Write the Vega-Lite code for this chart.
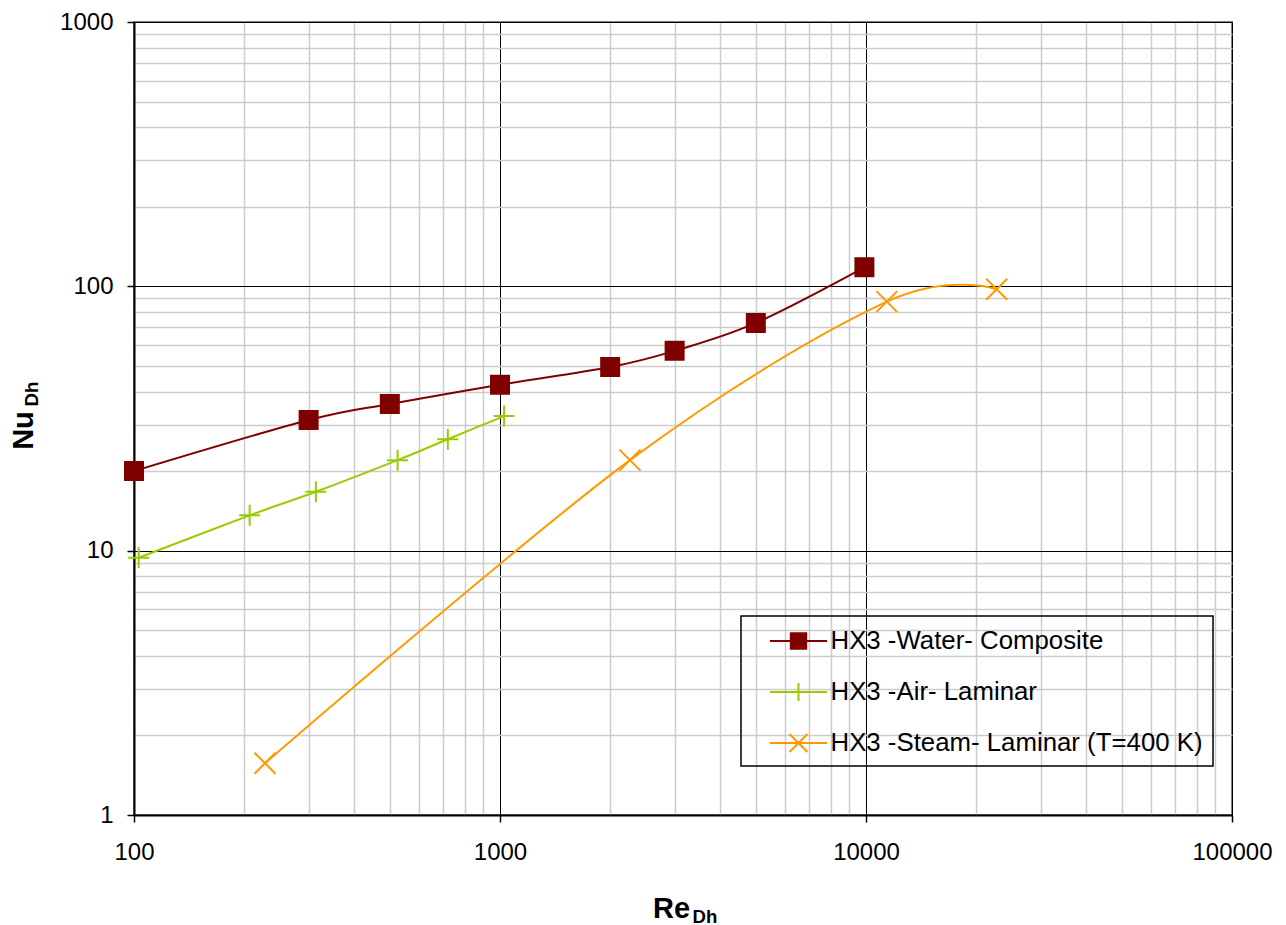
{
  "$schema": "https://vega.github.io/schema/vega-lite/v6.json",
  "width": 1098,
  "height": 793,
  "autosize": "none",
  "padding": {"left": 134, "top": 22, "right": 54, "bottom": 110},
  "background": "white",
  "config": {
    "font": "Liberation Sans",
    "view": {"stroke": "#808080", "strokeWidth": 2}
  },
  "data": {
    "values": [
      {"series": "HX3 -Water- Composite", "re": 100, "nu": 20.0},
      {"series": "HX3 -Water- Composite", "re": 300, "nu": 31.2},
      {"series": "HX3 -Water- Composite", "re": 500, "nu": 35.9},
      {"series": "HX3 -Water- Composite", "re": 1000, "nu": 42.4},
      {"series": "HX3 -Water- Composite", "re": 2000, "nu": 49.5},
      {"series": "HX3 -Water- Composite", "re": 3000, "nu": 57.0},
      {"series": "HX3 -Water- Composite", "re": 5000, "nu": 72.7},
      {"series": "HX3 -Water- Composite", "re": 9900, "nu": 118},
      {"series": "HX3 -Air- Laminar", "re": 103, "nu": 9.4},
      {"series": "HX3 -Air- Laminar", "re": 207, "nu": 13.6},
      {"series": "HX3 -Air- Laminar", "re": 314, "nu": 16.7},
      {"series": "HX3 -Air- Laminar", "re": 525, "nu": 22.0},
      {"series": "HX3 -Air- Laminar", "re": 720, "nu": 26.4},
      {"series": "HX3 -Air- Laminar", "re": 1026, "nu": 32.3},
      {"series": "HX3 -Steam- Laminar (T=400 K)", "re": 228, "nu": 1.57},
      {"series": "HX3 -Steam- Laminar (T=400 K)", "re": 2265, "nu": 22.0},
      {"series": "HX3 -Steam- Laminar (T=400 K)", "re": 11400, "nu": 87.5},
      {"series": "HX3 -Steam- Laminar (T=400 K)", "re": 22760, "nu": 97.5}
    ]
  },
  "layer": [
    {
      "mark": {"type": "line", "interpolate": "cardinal", "strokeWidth": 2},
      "encoding": {
        "x": {
          "field": "re", "type": "quantitative",
          "scale": {"type": "log", "domain": [100, 100000], "nice": false},
          "axis": {
            "title": "Re", "titleFontSize": 29, "titleFontWeight": "bold", "titleColor": "black",
            "titleX": 537, "titleY": 102, "titleBaseline": "alphabetic", "titleAlign": "center",
            "values": [100,200,300,400,500,600,700,800,900,1000,2000,3000,4000,5000,6000,7000,8000,9000,10000,20000,30000,40000,50000,60000,70000,80000,90000,100000],
            "labelExpr": "abs(log(datum.value)/LN10 - round(log(datum.value)/LN10)) < 0.001 ? format(datum.value, 'd') : ''",
            "labelFontSize": 24, "labelColor": "black", "labelPadding": 18, "labelOverlap": false, "labelFlush": false,
            "tickSize": 7, "tickColor": "black", "tickWidth": 1.5,
            "tickOpacity": {"condition": {"test": "abs(log(datum.value)/LN10 - round(log(datum.value)/LN10)) < 0.001", "value": 1}, "value": 0},
            "gridColor": {"condition": {"test": "abs(log(datum.value)/LN10 - round(log(datum.value)/LN10)) < 0.001", "value": "black"}, "value": "#cccccc"},
            "gridWidth": {"condition": {"test": "abs(log(datum.value)/LN10 - round(log(datum.value)/LN10)) < 0.001", "value": 1}, "value": 1.5},
            "domainColor": "black", "domainWidth": 2
          }
        },
        "y": {
          "field": "nu", "type": "quantitative",
          "scale": {"type": "log", "domain": [1, 1000], "nice": false},
          "axis": {
            "title": "Nu", "titleFontSize": 29, "titleFontWeight": "bold", "titleColor": "black",
            "titleX": -102, "titleY": 408, "titleAngle": 270, "titleBaseline": "alphabetic", "titleAlign": "center",
            "values": [1,2,3,4,5,6,7,8,9,10,20,30,40,50,60,70,80,90,100,200,300,400,500,600,700,800,900,1000],
            "labelExpr": "abs(log(datum.value)/LN10 - round(log(datum.value)/LN10)) < 0.001 ? format(datum.value, 'd') : ''",
            "labelFontSize": 24, "labelColor": "black", "labelPadding": 14, "labelOverlap": false, "labelFlush": false,
            "tickSize": 7, "tickColor": "black", "tickWidth": 1.5,
            "tickOpacity": {"condition": {"test": "abs(log(datum.value)/LN10 - round(log(datum.value)/LN10)) < 0.001", "value": 1}, "value": 0},
            "gridColor": {"condition": {"test": "abs(log(datum.value)/LN10 - round(log(datum.value)/LN10)) < 0.001", "value": "black"}, "value": "#cccccc"},
            "gridWidth": {"condition": {"test": "abs(log(datum.value)/LN10 - round(log(datum.value)/LN10)) < 0.001", "value": 1}, "value": 1.5},
            "domainColor": "black", "domainWidth": 2
          }
        },
        "color": {
          "field": "series", "type": "nominal",
          "scale": {"domain": ["HX3 -Water- Composite", "HX3 -Air- Laminar", "HX3 -Steam- Laminar (T=400 K)"], "range": ["#800000", "#99cc00", "#ff9900"]},
          "legend": {
            "title": null, "orient": "none", "legendX": 607, "legendY": 594,
            "padding": 10, "symbolOffset": 32.5, "labelOffset": 17,
            "rowPadding": 23, "labelFontSize": 25.8, "labelColor": "black", "labelLimit": 0,
            "strokeColor": "black", "symbolSize": 784,
            "encode": {
              "legend": {"update": {"strokeWidth": {"value": 1.5}}},
              "symbols": {"update": {
                "shape": {"signal": "datum.value === 'HX3 -Water- Composite' ? 'M-2.04,0H2.04M-0.55,-0.55H0.55V0.55H-0.55Z' : datum.value === 'HX3 -Air- Laminar' ? 'M-2.04,0H2.04M0,-0.64V0.64' : 'M-2.04,0H2.04M-0.64,-0.64L0.64,0.64M-0.64,0.64L0.64,-0.64'"},
                "fill": {"signal": "datum.value === 'HX3 -Water- Composite' ? '#800000' : 'transparent'"},
                "stroke": {"signal": "scale('color', datum.value)"},
                "strokeWidth": {"value": 2},
                "size": {"value": 784},
                "opacity": {"value": 1}
              }}
            }
          }
        }
      }
    },
    {
      "transform": [{"filter": "datum.series === 'HX3 -Water- Composite'"}],
      "mark": {"type": "point", "shape": "square", "size": 324, "filled": true, "fill": "#800000", "stroke": "#800000", "strokeWidth": 2, "opacity": 1},
      "encoding": {
        "x": {
          "field": "re", "type": "quantitative",
          "scale": {"type": "log", "domain": [100, 100000], "nice": false},
          "axis": {"orient": "bottom", "title": "Dh", "labels": false, "ticks": false, "domain": false, "grid": false,
            "titleFontSize": 18.6, "titleFontWeight": "bold", "titleColor": "black",
            "titleX": 570.5, "titleY": 107, "titleBaseline": "alphabetic", "titleAlign": "center"}
        },
        "y": {
          "field": "nu", "type": "quantitative",
          "scale": {"type": "log", "domain": [1, 1000], "nice": false},
          "axis": {"orient": "left", "title": "Dh", "labels": false, "ticks": false, "domain": false, "grid": false,
            "titleFontSize": 18.6, "titleFontWeight": "bold", "titleColor": "black",
            "titleX": -97, "titleY": 371.5, "titleAngle": 270, "titleBaseline": "alphabetic", "titleAlign": "center"}
        }
      }
    },
    {
      "transform": [{"filter": "datum.series === 'HX3 -Air- Laminar'"}],
      "mark": {"type": "point", "shape": "M-1,0H1M0,-1V1", "size": 441, "filled": false, "stroke": "#99cc00", "strokeWidth": 2, "opacity": 1},
      "encoding": {
        "x": {"field": "re", "type": "quantitative", "scale": {"type": "log", "domain": [100, 100000], "nice": false}, "axis": null},
        "y": {"field": "nu", "type": "quantitative", "scale": {"type": "log", "domain": [1, 1000], "nice": false}, "axis": null}
      }
    },
    {
      "transform": [{"filter": "datum.series === 'HX3 -Steam- Laminar (T=400 K)'"}],
      "mark": {"type": "point", "shape": "M-1,-1L1,1M-1,1L1,-1", "size": 441, "filled": false, "stroke": "#ff9900", "strokeWidth": 2, "opacity": 1},
      "encoding": {
        "x": {"field": "re", "type": "quantitative", "scale": {"type": "log", "domain": [100, 100000], "nice": false}, "axis": null},
        "y": {"field": "nu", "type": "quantitative", "scale": {"type": "log", "domain": [1, 1000], "nice": false}, "axis": null}
      }
    }
  ],
  "resolve": {"axis": {"x": "independent", "y": "independent"}}
}
